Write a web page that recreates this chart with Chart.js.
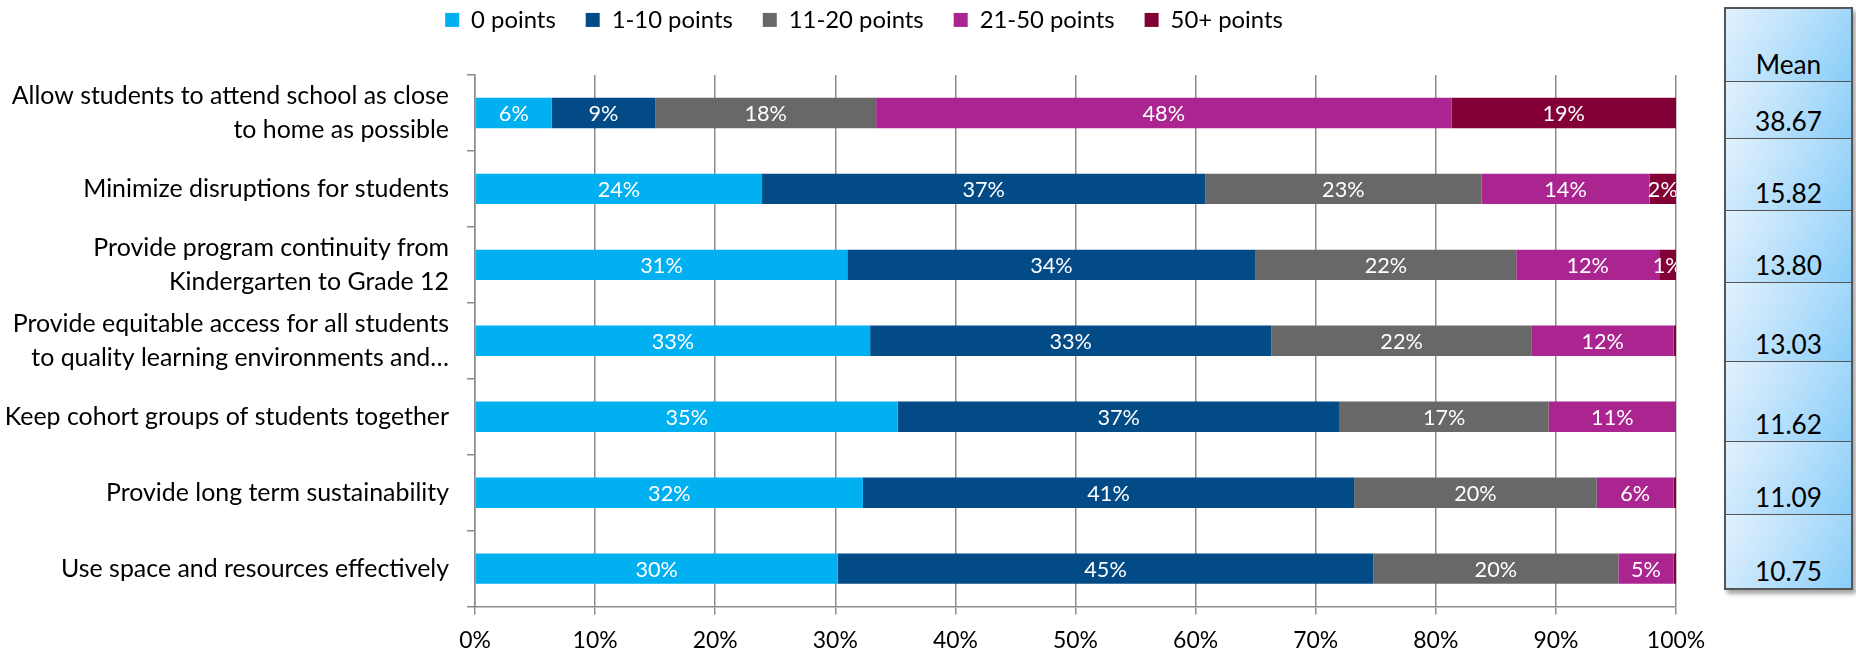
<!DOCTYPE html>
<html>
<head>
<meta charset="utf-8">
<script src="https://cdn.jsdelivr.net/npm/chart.js@4.4.1/dist/chart.umd.min.js"></script>
<style>
  html, body { margin: 0; padding: 0; background: #fff; width: 1856px; height: 659px; overflow: hidden; }
  #wrap { position: absolute; left: 0; top: 0; width: 1736px; height: 659px; }
  #meanBox { position: absolute; left: 1724px; top: 7px; width: 129px; box-sizing: border-box;
             border: 2px solid #555; box-shadow: 3px 4px 4px rgba(0,0,0,0.35); color: #000; }
  .cell { box-sizing: border-box; display: flex; justify-content: center; align-items: flex-end;
          background: linear-gradient(120deg, #e2f1fd 0%, #bde2fb 45%, #88cdf8 100%); line-height: 1; }
  .cell + .cell { border-top: 1.5px solid #555; }
</style>
</head>
<body>
<div id="wrap"><canvas id="c"></canvas></div>
<div id="meanBox"></div>
<script>
// ---------------- data ----------------
const categories = [
  ['Allow students to attend school as close', 'to home as possible'],
  ['Minimize disruptions for students'],
  ['Provide program continuity from', 'Kindergarten to Grade 12'],
  ['Provide equitable access for all students', 'to quality learning environments and\u2026'],
  ['Keep cohort groups of students together'],
  ['Provide long term sustainability'],
  ['Use space and resources effectively']
];
const seriesNames = ['0 points', '1-10 points', '11-20 points', '21-50 points', '50+ points'];
const pts0       = [6.4, 23.9, 31.0, 32.9, 35.2, 32.3, 30.2];
const pts1to10   = [8.6, 36.9, 34.0, 33.4, 36.8, 40.9, 44.6];
const pts11to20  = [18.4, 23.0, 21.7, 21.7, 17.4, 20.2, 20.4];
const pts21to50  = [47.9, 14.0, 11.9, 11.8, 10.6, 6.4, 4.6];
const pts50plus  = [18.7, 2.2, 1.4, 0.2, 0.0, 0.2, 0.2];
const xTickLabels = ['0%', '10%', '20%', '30%', '40%', '50%', '60%', '70%', '80%', '90%', '100%'];
const meanHeader = 'Mean';
const means = [38.67, 15.82, 13.80, 13.03, 11.62, 11.09, 10.75];

// ---------------- styling ----------------
const seriesColors = ['#00B0F0', '#034B87', '#686868', '#AA2590', '#820036'];
const FAMILY = 'Lato';
const mctx = document.createElement('canvas').getContext('2d');
function fitSize(text, target) {
  mctx.font = '100px ' + FAMILY;
  return 100 * target / mctx.measureText(text).width;
}
const CAT_FS = fitSize('Minimize disruptions for students', 366);
const LEG_FS = fitSize('21-50 points', 135);
const DL_FS = fitSize('24%', 42.5);
const XT_FS = fitSize('80%', 45);
const MEAN_FS = fitSize('38.67', 67);

const GRID = '#8c8c8c';
const PAD_LEFT = 0, PAD_RIGHT = 60;
const PLOT_LEFT = 475, PLOT_TOP = 75, PLOT_BOTTOM = 614, CANVAS_H = 659;
const LEG_PAD = 30;
const LEG_CENTER_Y = 20;
const LEG_CENTER_X = 864;
const padTop = Math.round(LEG_CENTER_Y - LEG_PAD - Math.max(LEG_FS, 14) / 2);

// ---------------- plugins ----------------
const legendPlacer = {
  id: 'legendPlacer',
  beforeLayout(chart) {
    const lg = chart.legend;
    if (lg && !lg._patched) {
      const origFit = lg.fit;
      lg.fit = function () { origFit.call(this); this.height = PLOT_TOP - padTop; };
      const origDraw = lg.draw;
      lg.draw = function (area) {
        const c = this.ctx;
        c.save();
        c.translate(LEG_CENTER_X - (this.left + this.right) / 2, 0);
        origDraw.call(this, area);
        c.restore();
      };
      lg._patched = true;
    }
  }
};

const segmentLabels = {
  id: 'segmentLabels',
  afterDatasetsDraw(chart) {
    const { ctx, chartArea } = chart;
    ctx.save();
    ctx.beginPath();
    ctx.rect(chartArea.left, chartArea.top, chartArea.right - chartArea.left, chartArea.bottom - chartArea.top);
    ctx.clip();
    ctx.font = DL_FS + 'px ' + FAMILY;
    ctx.fillStyle = '#ffffff';
    ctx.textAlign = 'center';
    ctx.textBaseline = 'middle';
    chart.data.datasets.forEach((ds, di) => {
      const meta = chart.getDatasetMeta(di);
      meta.data.forEach((bar, i) => {
        const v = ds.data[i];
        if (v < 1) return;
        const cx = (bar.x + bar.base) / 2;
        ctx.fillText(Math.round(v) + '%', cx, bar.y + 1);
      });
    });
    ctx.restore();
  }
};

// ---------------- chart ----------------
const seriesValues = [pts0, pts1to10, pts11to20, pts21to50, pts50plus];
const datasets = seriesNames.map((name, k) => ({
  label: name,
  data: seriesValues[k],
  backgroundColor: seriesColors[k],
  borderWidth: 0,
  barPercentage: 0.4,
  categoryPercentage: 1.0
}));

new Chart(document.getElementById('c'), {
  type: 'bar',
  data: { labels: categories, datasets },
  options: {
    indexAxis: 'y',
    responsive: true,
    maintainAspectRatio: false,
    animation: false,
    layout: { padding: { left: PAD_LEFT, right: PAD_RIGHT, top: padTop, bottom: 0 } },
    plugins: {
      legend: {
        position: 'top',
        labels: {
          boxWidth: 14, boxHeight: 14, padding: LEG_PAD, color: '#000',
          font: { family: FAMILY, size: LEG_FS }
        }
      },
      tooltip: { enabled: false }
    },
    scales: {
      x: {
        stacked: true, min: 0, max: 100,
        ticks: {
          stepSize: 10, color: '#000', padding: 12,
          font: { family: FAMILY, size: XT_FS },
          callback: (v, i) => xTickLabels[i]
        },
        grid: { color: GRID, lineWidth: 1.5, tickLength: 8, drawTicks: true },
        border: { color: GRID, width: 1.5 },
        afterFit(scale) { scale.height = CANVAS_H - PLOT_BOTTOM; }
      },
      y: {
        stacked: true,
        ticks: {
          color: '#000', padding: 18,
          font: { family: FAMILY, size: CAT_FS, lineHeight: 1.38 }
        },
        grid: { drawOnChartArea: false, drawTicks: true, tickLength: 8, color: GRID, lineWidth: 1.5, offset: true },
        border: { color: GRID, width: 1.5 },
        afterFit(scale) { scale.width = PLOT_LEFT - PAD_LEFT; }
      }
    }
  },
  plugins: [legendPlacer, segmentLabels]
});

// ---------------- mean table ----------------
const rowHeights = [72, 57, 72, 72, 79, 80, 73, 74];
const box = document.getElementById('meanBox');
box.style.fontFamily = FAMILY;
box.style.fontSize = MEAN_FS + 'px';
[meanHeader].concat(means.map(m => m.toFixed(2))).forEach((txt, i) => {
  const d = document.createElement('div');
  d.className = 'cell';
  const h = rowHeights[i];
  d.style.height = h + 'px';
  const centerFromBottom = Math.min(h / 2, 18.5);
  d.style.paddingBottom = Math.max(0, centerFromBottom - MEAN_FS * 0.55) + 'px';
  d.textContent = txt;
  box.appendChild(d);
});
</script>
</body>
</html>
